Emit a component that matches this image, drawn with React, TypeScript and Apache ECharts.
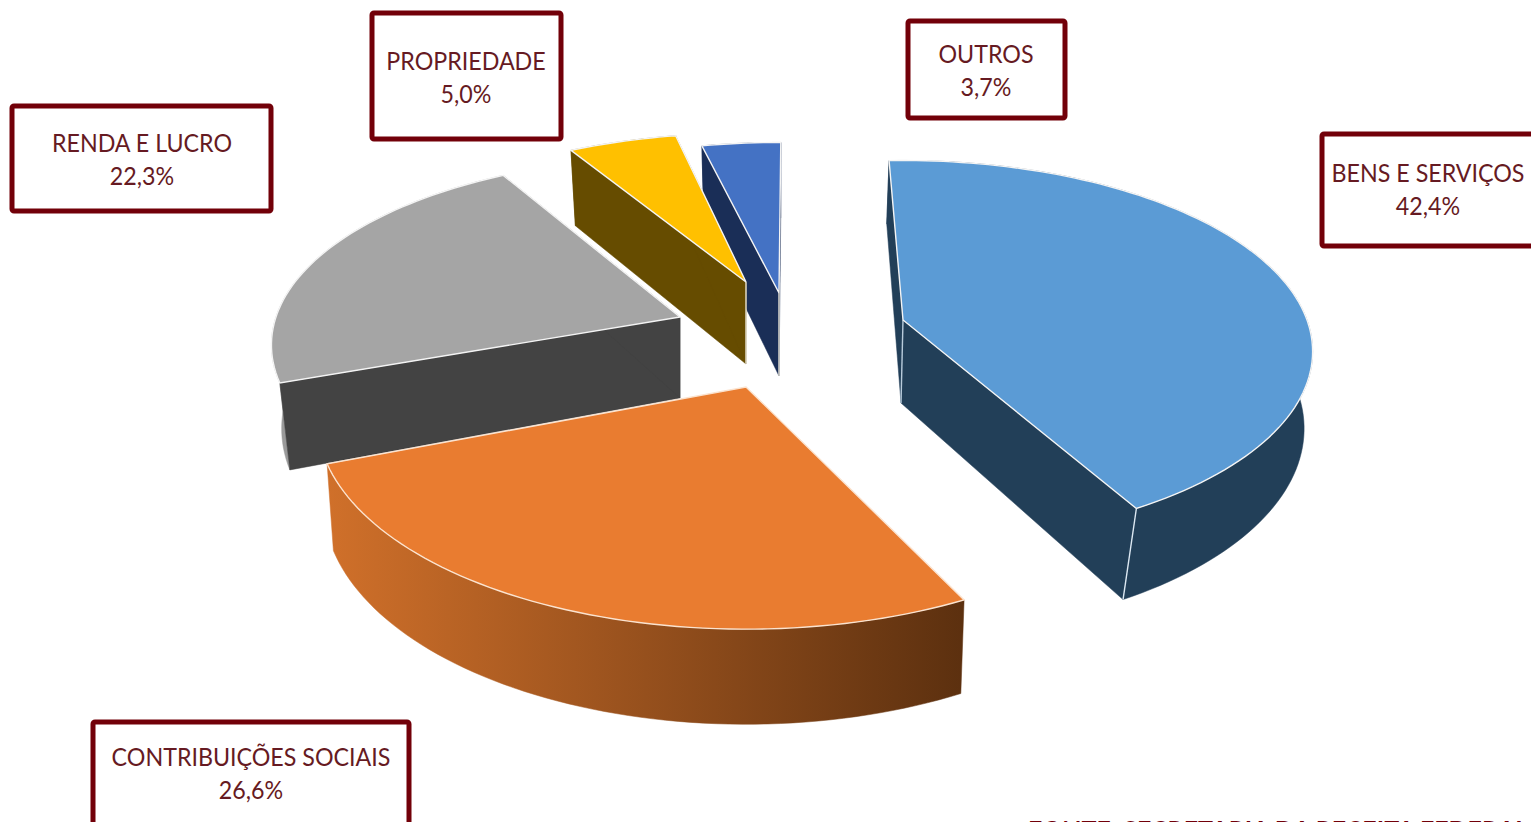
import React, { useEffect, useRef } from "react";
import * as echarts from "echarts";

const categories = ["BENS E SERVIÇOS", "CONTRIBUIÇÕES SOCIAIS", "RENDA E LUCRO", "PROPRIEDADE", "OUTROS"];
const values = [42.4, 26.6, 22.3, 5.0, 3.7];
const sourceText = "FONTE: SECRETARIA DA RECEITA FEDERAL";

// Layout of the exploded, perspective pie (not data)
const apexes = [[903, 320], [746, 387], [680, 317], [746, 282], [779, 293]];
const rotations = [-2.3, 0.9, 1.7, 1.7, 0.3];
const scalesX = [1.0, 1.05, 1, 0.99, 0.97];
const scalesY = [1.01, 1.12, 1, 0.93, 0.94];
const perspectives = [0.165, 0.149, 0.149, 0.149, 0.149];
const depths = [[-2, 83], [0, 83], [0, 81], [0, 82], [0, 83]];
const wallPerspDelta = [0.04, 0, 0, 0, 0];
const wallScalesX = [0.99, 0.985, 0.975, 0.975, 0.975];
const wallScalesY = [1.085, 1.05, 1.09, 1.05, 1.05];
const topColors = ["#5B9BD5", "#E97C30", "#A5A5A5", "#FFC000", "#4472C4"];
const cutColors = ["#223F58", "#8A4A18", "#434343", "#664C00", "#1A2E57"];
const drawOrder = [4, 3, 2, 0, 1];
const boxes = [
  [1322, 134, 214, 112, 1428, 172, 205],
  [93, 722, 316, 106, 251, 756, 789],
  [12, 106, 259, 105, 142, 142, 175],
  [372, 13, 189, 126, 466, 60, 93],
  [908, 21, 157, 97, 986, 53, 86],
];

const RX = 404;
const RY = 184;
const BOX_COLOR = "#720009";
const TEXT_COLOR = "#661A22";
const FONT = "Lato, 'Noto Sans', sans-serif";

const total = values.reduce((a, b) => a + b, 0);

function project(deg: number, i: number, p: number) {
  const t = (deg * Math.PI) / 180;
  const u = Math.sin(t);
  const v = -Math.cos(t);
  const d = 1 - p * v;
  return [(RX * scalesX[i] * u) / d, (RY * scalesY[i] * v) / d];
}

function renderSlice(params: any, api: any) {
  const i = api.value(1) as number;
  const before = values.slice(0, i).reduce((a, b) => a + b, 0);
  const start = (before / total) * 360 + rotations[i];
  const end = ((before + (api.value(0) as number)) / total) * 360 + rotations[i];
  const [ax, ay] = apexes[i];
  const [dx, dy] = depths[i];
  const bx = ax + dx;
  const by = ay + dy;
  const topArc: number[][] = [];
  const botArc: number[][] = [];
  const n = Math.max(4, Math.ceil((end - start) / 1.5));
  for (let k = 0; k <= n; k++) {
    const a = start + ((end - start) * k) / n;
    const [x, y] = project(a, i, perspectives[i]);
    const [xb, yb] = project(a, i, perspectives[i] - wallPerspDelta[i]);
    topArc.push([ax + x, ay + y]);
    botArc.push([bx + xb * wallScalesX[i], by + yb * wallScalesY[i]]);
  }
  const first = topArc[0];
  const last = topArc[n];
  const wallFill: any =
    i === 1
      ? new echarts.graphic.LinearGradient(0, 0, 1, 0, [
          { offset: 0, color: "#D0702A" },
          { offset: 0.5, color: "#96501D" },
          { offset: 1, color: "#5C300F" },
        ])
      : i === 2
      ? "#9A9A9A"
      : cutColors[i];
  const poly = (points: number[][], fill: any, stroke?: string, lineWidth = 0) => ({
    type: "polygon",
    shape: { points },
    style: { fill, stroke: stroke || fill, lineWidth: stroke ? lineWidth : 0.5 },
    silent: true,
  });
  const edge = (p: number[], q: number[], color: string) => ({
    type: "line",
    shape: { x1: p[0], y1: p[1], x2: q[0], y2: q[1] },
    style: { stroke: color, lineWidth: 1.4 },
    silent: true,
  });
  const children: any[] = [poly([...topArc, ...botArc.slice().reverse()], wallFill)];
  if (i !== 1) {
    children.push(poly([[ax, ay], first, botArc[0], [bx, by]], cutColors[i]));
    children.push(poly([[ax, ay], last, botArc[n], [bx, by]], cutColors[i]));
  }
  if (i === 0) children.push(edge(last, botArc[n], "#DCE8F2"));
  if (i === 0) children.push(edge([ax, ay], [bx, by], "#B8CBDB"));
  if (i === 2) children.push(edge(last, botArc[n], "#E8E8E8"));
  if (i === 3 || i === 4) children.push(edge([ax, ay], [bx, by], "#E8E4D8"));
  children.push(poly([[ax, ay], ...topArc], topColors[i], i === 1 ? "#FBE3CF" : "#F4F4F4", 1.4));
  return { type: "group", children };
}

export default function App() {
  const ref = useRef<HTMLDivElement>(null);
  useEffect(() => {
    document.body.style.margin = "0";
    document.body.style.overflow = "hidden";
    document.body.style.background = "#fff";
    const chart = echarts.init(ref.current!, null, { renderer: "svg" });
    const graphic: any[] = [];
    categories.forEach((name, i) => {
      const [x, y, w, h, tx, y1, y2] = boxes[i];
      graphic.push({
        type: "rect",
        shape: { x, y, width: w, height: h, r: 2 },
        style: { fill: "#fff", stroke: BOX_COLOR, lineWidth: 5 },
        silent: true,
      });
      [name, values[i].toFixed(1).replace(".", ",") + "%"].forEach((t, k) => {
        graphic.push({
          type: "text",
          x: tx,
          y: k === 0 ? y1 : y2,
          scaleX: 0.93,
          style: {
            text: t,
            fill: TEXT_COLOR,
            font: `25px ${FONT}`,
            textAlign: "center",
            textVerticalAlign: "middle",
          },
          silent: true,
        });
      });
    });
    graphic.push({
      type: "text",
      x: 1028,
      y: 816,
      style: {
        text: sourceText,
        fill: BOX_COLOR,
        font: `bold 25px ${FONT}`,
        textAlign: "left",
        textVerticalAlign: "top",
      },
      silent: true,
    });
    chart.setOption({
      animation: false,
      backgroundColor: "#fff",
      graphic,
      series: [
        {
          type: "custom",
          coordinateSystem: "none",
          renderItem: renderSlice,
          data: drawOrder.map((i) => [values[i], i]),
          silent: true,
        },
      ],
    });
    return () => chart.dispose();
  }, []);
  return <div ref={ref} style={{ width: 1531, height: 822 }} />;
}
